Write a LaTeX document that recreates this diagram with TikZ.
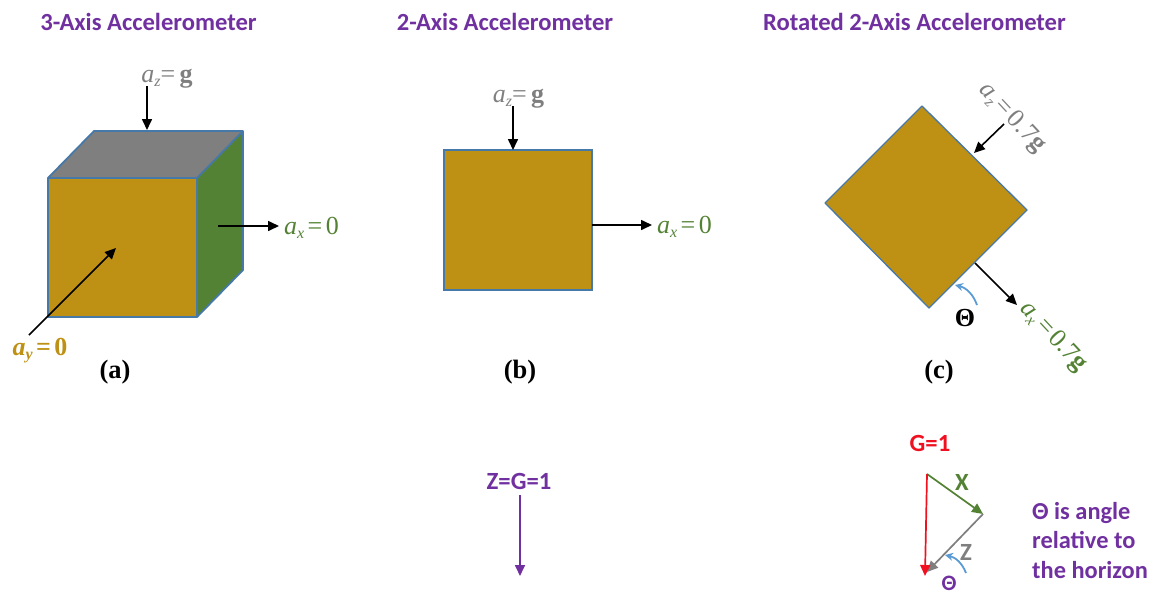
\documentclass[tikz,border=0pt]{standalone}
\usepackage{fontspec}
\setmainfont{Liberation Serif}
\newfontfamily\calib{Carlito}
\usetikzlibrary{arrows.meta}
\definecolor{ochre}{HTML}{BE9014}
\definecolor{edgeblue}{HTML}{4678A8}
\definecolor{leaf}{HTML}{548235}
\definecolor{slate}{HTML}{7F7F7F}
\definecolor{violet7}{HTML}{7030A0}
\definecolor{arcblue}{HTML}{5B9BD5}
\definecolor{gred}{HTML}{F01020}
\tikzset{
 cubeface/.style={draw=edgeblue,line width=1.8pt,line join=round},
 arr/.style={-{Triangle[length=11pt,width=10pt]},line width=1.6pt,black},
 thinarr/.style={-{Triangle[length=11pt,width=10pt]},line width=1.7pt},
 arcarr/.style={-{Stealth[length=8pt,width=8pt]},arcblue,line width=1.8pt},
 titletext/.style={font=\calib\bfseries\fontsize{24.6}{28}\selectfont,text=violet7,inner sep=0pt},
 eqn/.style={font=\fontsize{26}{30}\selectfont,inner sep=0pt,anchor=base},
 reqn/.style={font=\fontsize{26}{30}\selectfont,inner sep=0pt},
 captext/.style={font=\bfseries\fontsize{26.5}{30}\selectfont,inner sep=0pt},
 lab/.style={font=\calib\bfseries\fontsize{24.7}{28}\selectfont,inner sep=0pt},
}
\newcommand{\aeq}[2]{\textit{a}\raisebox{-4.5pt}{\fontsize{16}{16}\selectfont\textit{#1}}#2}
\begin{document}
\begin{tikzpicture}[x=1pt,y=-1pt]
\useasboundingbox (0,0) rectangle (1151,592);
% titles
\node[titletext] (t1) at (148.5,22) {3-Axis Accelerometer};
\node[titletext] (t2) at (505,22) {2-Axis Accelerometer};
\node[titletext] (t3) at (914.5,22) {Rotated 2-Axis Accelerometer};
% cube
\coordinate (fa) at (48,178); \coordinate (fb) at (197,178); \coordinate (fc) at (197,317); \coordinate (fd) at (48,317);
\coordinate (ba) at (94,131); \coordinate (bb) at (243,131); \coordinate (bc) at (243,270);
\fill[slate] (fa)--(ba)--(bb)--(fb)--cycle;
\fill[leaf] (fb)--(bb)--(bc)--(fc)--cycle;
\fill[ochre] (fa)--(fb)--(fc)--(fd)--cycle;
\draw[cubeface] (fa)--(ba)--(bb)--(bc)--(fc)--(fd)--cycle (fa)--(fb)--(fc) (fb)--(bb);
\node[eqn,text=slate] (az1) at (167,82) {\aeq{z}{=}\,\textbf{g}};
\coordinate (az1s) at (147,86); \coordinate (az1e) at (147,130);
\draw[arr] (az1s)--(az1e);
\coordinate (ax1s) at (218,226); \coordinate (ax1e) at (279,226);
\draw[arr] (ax1s)--(ax1e);
\node[eqn,text=leaf] (ax1) at (311.5,234) {\aeq{x}{\kern3.5pt=\kern3.5pt0}};
\coordinate (ay1s) at (29,335); \coordinate (ay1e) at (116,248);
\draw[arr] (ay1s)--(ay1e);
\node[eqn,text=ochre,font=\bfseries\fontsize{26}{30}\selectfont] (ay1) at (40,355) {\aeq{y}{\kern3.5pt=\kern3.5pt0}};
\node[captext] (ca) at (115,372) {(a)};
% square
\node[draw=edgeblue,fill=ochre,line width=1.4pt,minimum width=148pt,minimum height=140pt,inner sep=0pt] (sq) at (518,220) {};
\node[eqn,text=slate] (az2) at (518.5,102) {\aeq{z}{=}\,\textbf{g}};
\coordinate (az2s) at (513,106); \coordinate (az2e) at (513,150);
\draw[arr] (az2s)--(az2e);
\coordinate (ax2s) at (592,225); \coordinate (ax2e) at (652,225);
\draw[arr] (ax2s)--(ax2e);
\node[eqn,text=leaf] (ax2) at (684.5,233) {\aeq{x}{\kern3.5pt=\kern3.5pt0}};
\node[captext] (cb) at (520,372) {(b)};
% diamond
\coordinate (da) at (922,106); \coordinate (db) at (1027,210); \coordinate (dc) at (929,308); \coordinate (dd) at (825,203);
\draw[draw=edgeblue,fill=ochre,line width=1.3pt,line join=round] (da)--(db)--(dc)--(dd)--cycle;
\coordinate (az3s) at (1004,124); \coordinate (az3e) at (974,153);
\draw[arr] (az3s)--(az3e);
\node[reqn,text=slate,rotate=-47] (az3) at (1012,118) {\aeq{z}{\kern3pt=\kern3pt0.7}\textbf{g}};
\coordinate (ax3s) at (975,263); \coordinate (ax3e) at (1017,305);
\draw[arr] (ax3s)--(ax3e);
\node[reqn,text=leaf,rotate=-47] (ax3) at (1053,337) {\aeq{x}{\kern3pt=\kern3pt0.7}\textbf{g}};
\coordinate (th1s) at (977,305); \coordinate (th1e) at (955,285);
\draw[arcarr] (th1s) to[bend right=28] (th1e);
\node[font=\bfseries\fontsize{26}{30}\selectfont,inner sep=0pt] (th1) at (965,318) {Θ};
\node[captext] (cc) at (939,372) {(c)};
% bottom middle
\node[lab,text=violet7] (zg) at (519,481) {Z=G=1};
\coordinate (zgs) at (520,495); \coordinate (zge) at (520,576);
\draw[thinarr,violet7] (zgs) -- (zge);
% triangle
\node[lab,text=gred] (g1) at (930,443) {G=1};
\coordinate (ta) at (927,474); \coordinate (tb) at (983,514); \coordinate (tc) at (927,572); \coordinate (td) at (925,576);
\draw[thinarr,slate] (tb)--(tc);
\draw[thinarr,leaf] (ta)--(tb);
\draw[thinarr,gred] (ta)--(td);
\node[lab,text=leaf] (xl) at (962,482) {X};
\node[lab,text=slate] (zl) at (966,552) {Z};
\coordinate (th2s) at (966,573); \coordinate (th2e) at (945,555);
\draw[arcarr] (th2s) to[bend right=28] (th2e);
\node[lab,text=violet7,font=\calib\bfseries\fontsize{22}{26}\selectfont] (th2) at (949,583) {Θ};
\node[lab,text=violet7,anchor=north west,align=left,font=\calib\bfseries\fontsize{24.4}{29.5}\selectfont] (note) at (1032,502) {Θ is angle\\relative to\\the horizon};
\end{tikzpicture}
\end{document}
